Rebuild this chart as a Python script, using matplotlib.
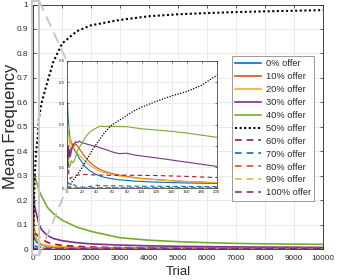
import matplotlib
matplotlib.use("Agg")
import matplotlib.pyplot as plt
from matplotlib.patches import Rectangle, ConnectionPatch

plt.rcParams['font.family'] = ['Liberation Sans', 'DejaVu Sans']

trials = [1, 2, 3, 4, 5, 6, 8, 10, 12, 14, 17, 20, 25, 30, 35, 40, 45, 50, 60, 70,
          80, 90, 100, 120, 140, 160, 180, 200, 300, 500, 700, 1000, 1500, 2000,
          3000, 4000, 5000, 6000, 7000, 8000, 10000]

offer0 = [0.40, 0.33, 0.28, 0.25, 0.23, 0.22, 0.20, 0.18, 0.17, 0.16, 0.14, 0.125, 0.10, 0.085, 0.073, 0.064, 0.057, 0.052, 0.045, 0.040,
          0.037, 0.034, 0.032, 0.029, 0.027, 0.025, 0.024, 0.023, 0.017, 0.011, 0.008, 0.006, 0.004, 0.003,
          0.0022, 0.0017, 0.0014, 0.0012, 0.001, 0.001, 0.0008]
offer10 = [0.15, 0.20, 0.17, 0.15, 0.19, 0.18, 0.21, 0.20, 0.21, 0.20, 0.185, 0.17, 0.145, 0.125, 0.11, 0.097, 0.088, 0.080, 0.070, 0.062,
           0.056, 0.051, 0.047, 0.041, 0.036, 0.032, 0.029, 0.026, 0.018, 0.012, 0.009, 0.007, 0.005, 0.004,
           0.003, 0.0025, 0.002, 0.0018, 0.0016, 0.0015, 0.0013]
offer20 = [0.30, 0.30, 0.23, 0.20, 0.24, 0.21, 0.19, 0.19, 0.175, 0.165, 0.155, 0.145, 0.125, 0.11, 0.098, 0.088, 0.080, 0.074, 0.065, 0.058,
           0.053, 0.049, 0.045, 0.040, 0.035, 0.032, 0.029, 0.027, 0.020, 0.013, 0.010, 0.008, 0.006, 0.005,
           0.0035, 0.003, 0.0025, 0.0022, 0.002, 0.0018, 0.0015]
offer30 = [0.10, 0.20, 0.14, 0.18, 0.15, 0.17, 0.20, 0.21, 0.22, 0.215, 0.222, 0.215, 0.21, 0.205, 0.20, 0.197, 0.19, 0.185, 0.172, 0.163,
           0.165, 0.157, 0.152, 0.143, 0.133, 0.123, 0.113, 0.103, 0.078, 0.055, 0.043, 0.034, 0.026, 0.021,
           0.016, 0.013, 0.011, 0.0095, 0.0085, 0.0078, 0.0065]
offer40 = [0.10, 0.15, 0.11, 0.10, 0.11, 0.13, 0.12, 0.13, 0.15, 0.175, 0.195, 0.21, 0.24, 0.262, 0.275, 0.285, 0.293, 0.29, 0.292, 0.29,
           0.29, 0.285, 0.28, 0.274, 0.268, 0.26, 0.25, 0.24, 0.215, 0.17, 0.145, 0.118, 0.09, 0.072,
           0.046, 0.036, 0.030, 0.026, 0.023, 0.021, 0.019]
offer50 = [0.0, 0.0, 0.0, 0.005, 0.015, 0.025, 0.035, 0.045, 0.055, 0.065, 0.08, 0.095, 0.125, 0.155, 0.185, 0.21, 0.235, 0.26, 0.298, 0.32,
           0.343, 0.365, 0.382, 0.41, 0.435, 0.455, 0.485, 0.532, 0.60, 0.685, 0.765, 0.84, 0.89, 0.915,
           0.937, 0.952, 0.96, 0.965, 0.969, 0.972, 0.977]
offer60 = [0.16, 0.10, 0.07, 0.05, 0.045, 0.05, 0.055, 0.06, 0.06, 0.062, 0.063, 0.064, 0.065, 0.064, 0.063, 0.063, 0.062, 0.062, 0.061, 0.062,
           0.062, 0.061, 0.061, 0.06, 0.058, 0.056, 0.053, 0.051, 0.04, 0.027, 0.02, 0.015, 0.011, 0.008,
           0.006, 0.005, 0.004, 0.0035, 0.003, 0.003, 0.0025]
offer70 = [0.03, 0.025, 0.02, 0.02, 0.025, 0.02, 0.018, 0.016, 0.012, 0.008, 0.006, 0.005, 0.005, 0.008, 0.012, 0.014, 0.013, 0.012, 0.012, 0.011,
           0.011, 0.010, 0.010, 0.010, 0.009, 0.009, 0.008, 0.008, 0.006, 0.005, 0.004, 0.0035, 0.003, 0.0028,
           0.0025, 0.0022, 0.002, 0.002, 0.002, 0.002, 0.002]
offer80 = [0.0, 0.006, 0.008, 0.006, 0.005, 0.005, 0.004, 0.004, 0.004, 0.004, 0.004, 0.004, 0.004, 0.004, 0.004, 0.004, 0.004, 0.004, 0.004, 0.004,
           0.004, 0.004, 0.004, 0.004, 0.004, 0.004, 0.004, 0.004, 0.0035, 0.003, 0.003, 0.003, 0.0028, 0.0026,
           0.0025, 0.0024, 0.0023, 0.0022, 0.0022, 0.0021, 0.002]
offer90 = [0.0, 0.003, 0.003, 0.003, 0.003, 0.003, 0.003, 0.003, 0.003, 0.003, 0.003, 0.003, 0.003, 0.003, 0.003, 0.003, 0.003, 0.003, 0.003, 0.003,
           0.003, 0.003, 0.003, 0.003, 0.003, 0.003, 0.003, 0.003, 0.003, 0.0025, 0.0025, 0.0022, 0.002, 0.002,
           0.002, 0.0018, 0.0018, 0.0017, 0.0016, 0.0016, 0.0015]
offer100 = [0.0, 0.001, 0.001, 0.001, 0.001, 0.001, 0.001, 0.001, 0.001, 0.001, 0.001, 0.001, 0.001, 0.001, 0.001, 0.001, 0.001, 0.001, 0.001, 0.001,
            0.001, 0.001, 0.001, 0.001, 0.001, 0.001, 0.001, 0.001, 0.001, 0.001, 0.001, 0.001, 0.001, 0.001,
            0.001, 0.001, 0.001, 0.001, 0.001, 0.001, 0.001]

labels = ['0% offer', '10% offer', '20% offer', '30% offer', '40% offer', '50% offer',
          '60% offer', '70% offer', '80% offer', '90% offer', '100% offer']
series = [offer0, offer10, offer20, offer30, offer40, offer50,
          offer60, offer70, offer80, offer90, offer100]
colors = ['#0072BD', '#D95319', '#EDB120', '#7E2F8E', '#77AC30', '#000000',
          '#A2142F', '#0072BD', '#D95319', '#EDB120', '#7E2F8E']
styles = ['solid'] * 5 + ['dotted'] + ['dashed'] * 5

main_xticks = list(range(0, 10001, 1000))
main_yticks = [0, 0.1, 0.2, 0.3, 0.4, 0.5, 0.6, 0.7, 0.8, 0.9, 1]
main_yticklabels = ['0', '0.1', '0.2', '0.3', '0.4', '0.5', '0.6', '0.7', '0.8', '0.9', '1']
inset_xticks = list(range(0, 201, 20))
inset_yticks = [0, 0.1, 0.2, 0.3, 0.4, 0.5, 0.6]
inset_yticklabels = ['0', '0.1', '0.2', '0.3', '0.4', '0.5', '0.6']

W, H = 342, 280
fig = plt.figure(figsize=(W / 100, H / 100), dpi=100)

axis_col = '#262626'
grid_col = '#e6e6e6'


def ls_for(style):
    if style == 'dotted':
        return (0, (1, 1.2))
    if style == 'dashed':
        return (0, (4, 3))
    return '-'


ax = fig.add_axes([33 / W, 1 - 249 / H, 290 / W, (249 - 4.5) / H])
for y, c, s, lab in zip(series, colors, styles, labels):
    lw = 1.5 if s == 'dotted' else 1.2
    ax.plot(trials, y, color=c, linestyle=ls_for(s), lw=lw, label=lab)
ax.set_xlim(0, 10000)
ax.set_ylim(0, 1)
ax.set_xticks(main_xticks)
ax.set_yticks(main_yticks)
ax.set_yticklabels(main_yticklabels)
ax.tick_params(direction='in', length=2.5, width=0.5, top=True, right=True,
               labelsize=5.9, colors=axis_col)
ax.tick_params(axis='y', pad=3.5)
ax.tick_params(axis='x', pad=4)
for sp in ax.spines.values():
    sp.set_color(axis_col)
    sp.set_linewidth(0.6)
ax.grid(True, color=grid_col, lw=0.6)
ax.set_axisbelow(True)
ax.set_xlabel('Trial', fontsize=9.5, color=axis_col)
ax.set_ylabel('Mean Frequency', fontsize=12, color=axis_col)
ax.xaxis.set_label_coords(0.5, -0.068)
ax.yaxis.set_label_coords(-0.052, 0.5)

leg = ax.legend(loc='upper right', bbox_to_anchor=(314 / W, 1 - 56 / H),
                bbox_transform=fig.transFigure, fontsize=6.7, handlelength=2.8,
                labelspacing=0.42, borderpad=0.35, handletextpad=0.5,
                borderaxespad=0, fancybox=False, framealpha=1)
leg.get_frame().set_edgecolor('#8c8c8c')
leg.get_frame().set_linewidth(0.6)
for t in leg.get_texts():
    t.set_color(axis_col)

rect = Rectangle((-35, -0.025), 252, 1.038, fill=False, ec='#c8c8c8', lw=1.4,
                 clip_on=False, zorder=5)
ax.add_patch(rect)

axin = fig.add_axes([66.7 / W, 1 - 188.3 / H, 150 / W, (188.3 - 60.8) / H])
for y, c, s in zip(series, colors, styles):
    lw = 0.9 if s == 'dotted' else 0.8
    axin.plot(trials, y, color=c, linestyle=ls_for(s), lw=lw)
axin.set_xlim(0, 200)
axin.set_ylim(0, 0.6)
axin.set_xticks(inset_xticks)
axin.set_yticks(inset_yticks)
axin.set_yticklabels(inset_yticklabels)
axin.tick_params(direction='in', length=1.5, width=0.4, top=True, right=True,
                 labelsize=3.2, colors=axis_col, pad=1.5)
for sp in axin.spines.values():
    sp.set_color(axis_col)
    sp.set_linewidth(0.5)
axin.grid(True, color=grid_col, lw=0.5)
axin.set_axisbelow(True)

for ya, yb in [(1.013, 1.0), (-0.025, 0.0)]:
    con = ConnectionPatch(xyA=(217, ya), coordsA=ax.transData,
                          xyB=(0, yb), coordsB=axin.transAxes,
                          color='#c8c8c8', lw=1.4, linestyle=(0, (5, 4)))
    fig.add_artist(con)

fig.savefig('out.png', dpi=100)
